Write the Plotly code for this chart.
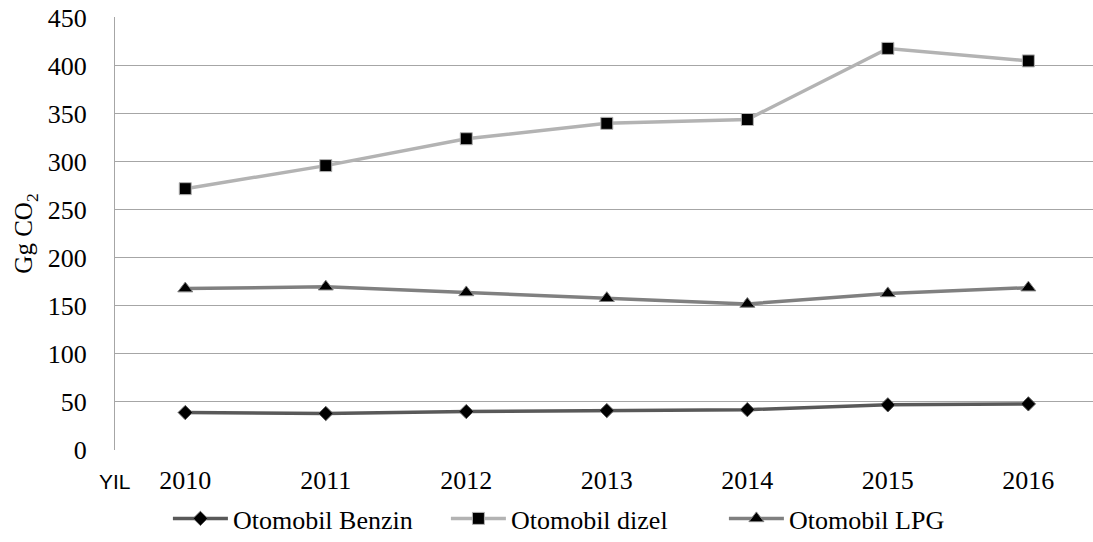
import plotly.graph_objects as go

years = ["2010", "2011", "2012", "2013", "2014", "2015", "2016"]
benzin = [39, 38, 40, 41, 42, 47, 48]
dizel = [272, 296, 324, 340, 344, 418, 405]
lpg = [168, 170, 164, 158, 152, 163, 169]
y_ticks = [0, 50, 100, 150, 200, 250, 300, 350, 400, 450]

fig = go.Figure()
series = [
    ("Otomobil Benzin", benzin, "#595959", "diamond", 11),
    ("Otomobil dizel", dizel, "#b3b3b3", "square", 12),
    ("Otomobil LPG", lpg, "#808080", "triangle-up", 13),
]
for name, vals, col, sym, sz in series:
    fig.add_trace(go.Scatter(
        x=years, y=vals, name=name, mode="lines+markers",
        line=dict(color=col, width=3.5),
        marker=dict(symbol=sym, size=sz, color="black", line=dict(color=col, width=1)),
    ))

fig.update_layout(
    width=1093, height=542,
    margin=dict(l=115, r=0, t=17, b=91),
    paper_bgcolor="white", plot_bgcolor="white",
    font=dict(family="Liberation Serif, Times New Roman, serif", size=26, color="black"),
    showlegend=True,
    legend=dict(orientation="h", x=0.0541, xanchor="left", y=-0.159, yanchor="middle",
                font=dict(size=26), itemwidth=55, entrywidthmode="pixels", entrywidth=208,
                tracegroupgap=0),
    xaxis=dict(type="category", range=[-0.5, 6.46], showgrid=False, showline=False,
               ticks="", tickfont=dict(size=26), ticklabelstandoff=12, automargin=False),
    yaxis=dict(range=[0, 450.7], tickvals=y_ticks, showgrid=True, gridcolor="#a6a6a6", gridwidth=1.3,
               showline=True, linecolor="#a6a6a6", linewidth=1.3, ticks="", zeroline=False,
               tickfont=dict(size=26), ticklabelstandoff=22, ticklabeloverflow="allow",
               automargin=False,
               title=dict(text="Gg CO<sub>2</sub>", font=dict(size=25), standoff=7)),
)
fig.add_annotation(text="YIL", xref="paper", yref="paper", x=-0.0184, y=-0.0737,
                   showarrow=False, font=dict(family="Liberation Sans, Arial, sans-serif", size=21),
                   xanchor="left", yanchor="middle")
fig.write_html("out.html", config={"displayModeBar": False},
               post_script="document.body.style.margin='0';")
